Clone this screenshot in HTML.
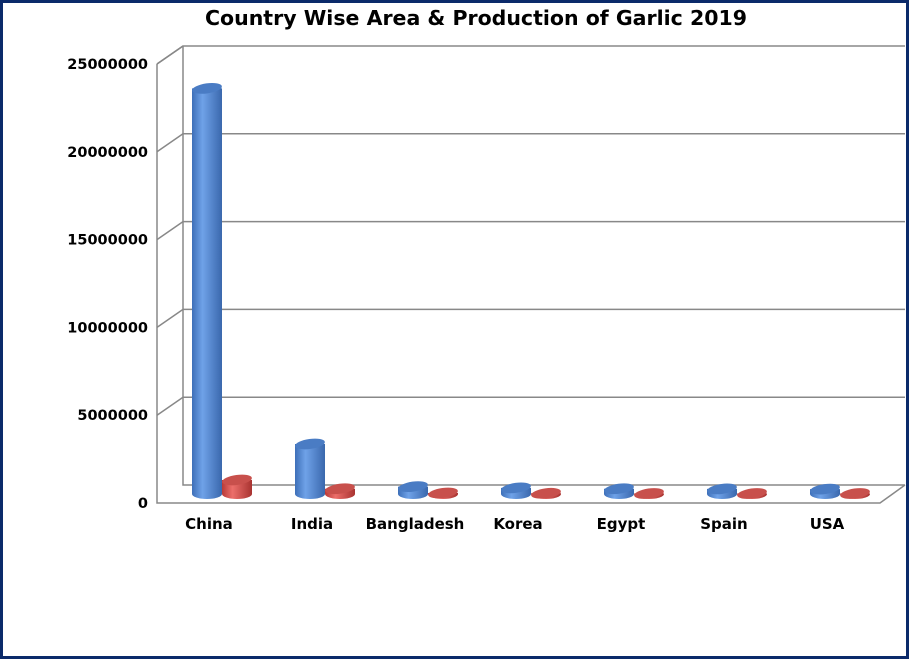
<!DOCTYPE html>
<html><head><meta charset="utf-8"><style>
body{margin:0;width:909px;height:659px;overflow:hidden;background:#fff;font-family:"DejaVu Sans","Liberation Sans",sans-serif}
</style></head><body>
<svg width="909" height="659" xmlns="http://www.w3.org/2000/svg">
<defs>
<linearGradient id="gb" x1="0" x2="1"><stop offset="0" stop-color="#3d6fb8"/><stop offset="0.35" stop-color="#6fa2e8"/><stop offset="1" stop-color="#3a68ad"/></linearGradient>
<linearGradient id="gr" x1="0" x2="1"><stop offset="0" stop-color="#b83a38"/><stop offset="0.35" stop-color="#ec6f6b"/><stop offset="1" stop-color="#a83330"/></linearGradient>
</defs>
<rect x="1.5" y="1.5" width="906" height="656" fill="#fff" stroke="#0b2a6a" stroke-width="3"/>
<text x="476" y="25" text-anchor="middle" font-size="20.5" font-weight="bold" fill="#000">Country Wise Area &amp; Production of Garlic 2019</text>
<g id="axes"></g>
<g id="bars"></g>
</svg>
<script>
const categories=["China","India","Bangladesh","Korea","Egypt","Spain","USA"];
const production=[23100000,2850000,420000,350000,300000,290000,280000];
const area=[800000,300000,60000,40000,30000,30000,30000];
const yTicks=[0,5000000,10000000,15000000,20000000,25000000];
const NS="http://www.w3.org/2000/svg";
const axes=document.getElementById('axes'),bars=document.getElementById('bars');
const pxPerUnit=(503-64)/25000000;
function yFront(v){return 503-v*pxPerUnit;}
function el(t,a,p){const e=document.createElementNS(NS,t);for(const k in a)e.setAttribute(k,a[k]);p.appendChild(e);return e;}
let w=el('path',{d:'M183,46 L183,485 L905,485 M157,64 L183,46 M157,64 L157,503 L880,503 L905,485',fill:'none',stroke:'#888','stroke-width':1.5},axes);


yTicks.forEach(v=>{
  const yf=yFront(v),yb=yf-18;
  if(v>0){const g=el('path',{d:`M157,${yf} L183,${yb} L905,${yb}`,fill:'none',stroke:'#888','stroke-width':1.5},axes);
  
  }
  const t=el('text',{x:148,y:yf+5,'text-anchor':'end','font-size':14.5,'font-weight':'bold',fill:'#000'},axes);
  t.textContent=v;
  
  
});
const slot=103,x0=209;
function cyl(cx,v,grad,topc,name){
  const base=494,h=v*pxPerUnit,top=base-h,rx=15,ry=5;
  const g=el('g',{},bars);
  
  
  el('path',{d:`M${cx-rx},${top} L${cx-rx},${base} A${rx},${ry} 0 0 0 ${cx+rx},${base} L${cx+rx},${top} Z`,fill:`url(#${grad})`},g);
  el('ellipse',{cx:cx,cy:top,rx:rx,ry:ry,fill:topc,transform:`rotate(-8 ${cx} ${top})`},g);
}
categories.forEach((c,i)=>{
  const cx=x0+i*slot;
  cyl(cx-2,production[i],'gb','#4a7cc4','bar-production-'+c.toLowerCase());
  cyl(cx+28,area[i],'gr','#c8504c','bar-area-'+c.toLowerCase());
  const t=el('text',{x:cx,y:529,'text-anchor':'middle','font-size':15,'font-weight':'bold',fill:'#000'},axes);
  t.textContent=c;
  
  
});
</script>
</body></html>
